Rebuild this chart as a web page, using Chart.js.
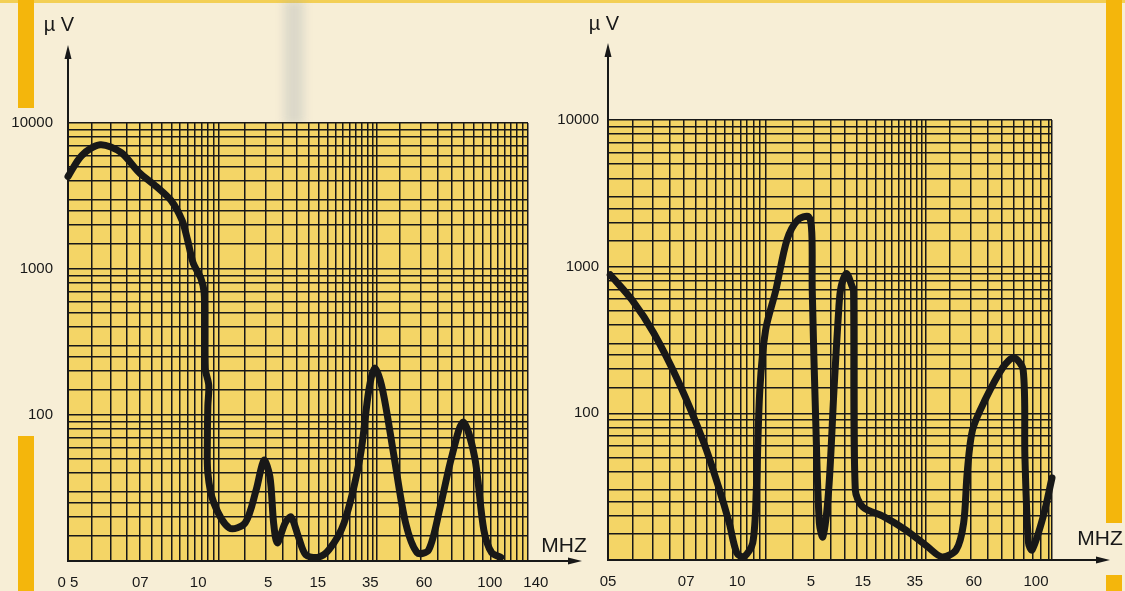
<!DOCTYPE html>
<html>
<head>
<meta charset="utf-8">
<script src="https://cdn.jsdelivr.net/npm/chart.js@4"></script>
<style>
  html, body { margin: 0; padding: 0; }
  body {
    width: 1125px; height: 591px; overflow: hidden; position: relative;
    background: #f7eed6;
    font-family: "Liberation Sans", Arial, sans-serif;
  }
  canvas { position: absolute; top: 0; }
  #left { left: 0; }
  #right { left: 540px; }
  .bar { position: absolute; background: #f4b60c; }
  .streak { position: absolute; left: 284px; top: 0; width: 20px; height: 125px;
    background: rgba(150, 160, 170, 0.28); filter: blur(5px); }
</style>
</head>
<body>
<div class="bar" style="left:0;top:0;width:1125px;height:3px;background:#f3cf55"></div>
<div class="bar" style="left:18px;top:0;width:16px;height:108px"></div>
<div class="bar" style="left:18px;top:436px;width:16px;height:155px"></div>
<div class="bar" style="left:1106px;top:0;width:16px;height:523px"></div>
<div class="bar" style="left:1106px;top:575px;width:16px;height:16px"></div>
<div class="streak"></div>
<canvas id="left" width="600" height="591"></canvas>
<canvas id="right" width="585" height="591"></canvas>
<script>
// x runs across the chart paper (0 = left edge, 100 = right edge), y is in µV

// tick labels under each chart and where they sit on the paper
const leftTickLabels = ['0 5', '07', '10', '5', '15', '35', '60', '100', '140'];
const leftTickAt = [0, 15.7, 28.3, 43.5, 54.3, 65.7, 77.4, 91.7, 101.7];
const rightTickLabels = ['05', '07', '10', '5', '15', '35', '60', '100'];
const rightTickAt = [0, 17.6, 29.1, 45.7, 57.4, 69.1, 82.4, 96.4];

const yTickLabels = [100, 1000, 10000];

// left curve
const leftPos = [0, 3, 7, 11.5, 15.4, 19.3, 22.4, 24.8, 26.0, 27.2, 28.9, 29.6, 29.7, 29.8,
  30.6, 30.4, 30.3, 30.4, 31.7, 35.1, 38.5, 40.9, 42.6, 43.9, 44.7, 45.5, 47.2, 48.5, 50.1,
  51.7, 54.3, 56.7, 60, 63.5, 65.4, 66.7, 68.4, 70.9, 73.4, 75.9, 78.4, 80.9, 83.4, 85.9,
  88.4, 90.4, 92.1, 94.1];
const leftLevel = [4300, 6000, 7100, 6300, 4600, 3650, 2950, 2150, 1580, 1100, 860, 690, 400, 210,
  160, 115, 70, 40, 25, 16.8, 18.2, 30.6, 49, 37.6, 18.2, 13.3, 18.2, 20, 14.6,
  11, 10.6, 11.9, 18.2, 51.5, 148, 210, 148, 51.5, 18.2, 11.4, 11.9, 23.4, 51.5, 89.6,
  51.5, 16.3, 11.4, 10.6];

// right curve
const rightPos = [0.5, 5.4, 10.3, 16.0, 21.6, 24.9, 27.3, 29.0, 30.6, 32.6, 33.4, 34.2, 35.5,
  37.8, 40.3, 42.7, 45.2, 45.9, 46.0, 46.8, 47.6, 48.4, 49.7, 50.9, 52.0, 52.5, 53.7, 55.0,
  55.3, 55.7, 57.4, 62.2, 67.1, 72.0, 75.2, 78.4, 80.1, 80.9, 82.1, 84.9, 89.0, 91.4, 93.5,
  93.9, 94.7, 95.5, 98.0, 100];
const rightLevel = [880, 593, 353, 161, 62.8, 31.5, 17.9, 11.2, 10.5, 13.1, 30, 145, 370,
  690, 1520, 2080, 2190, 1700, 690, 86, 17.9, 14.4, 30, 145, 530, 730, 900, 730,
  690, 30, 23, 19.7, 16, 12.3, 10.5, 11.7, 17.9, 39.3, 77, 123, 207, 239, 198,
  50.5, 13.1, 11.7, 19.7, 36.3];

const INK = '#181818';
const PAPER = '#f4d566';
const tickFont = { family: '"Liberation Sans", Arial, sans-serif', size: 15 };

// graph paper: horizontal rules at 1, 1.5, 2, 2.5, 3 ... 9 per decade
function paperRows() {
  const steps = [1, 1.5, 2, 2.5, 3, 4, 5, 6, 7, 8, 9];
  const rows = [];
  [10, 100, 1000].forEach(dec => steps.forEach(m => rows.push(m * dec)));
  rows.push(10000);
  return rows;
}

// graph paper: vertical rules repeat in cycles that get denser to the right
function paperColumns(cycleStarts) {
  const cols = [];
  cycleStarts.forEach((s, i) => {
    const next = cycleStarts[i + 1];
    const w = next !== undefined ? next - s : s - cycleStarts[i - 1];
    for (let k = 0; k < 15; k++) {
      const p = s + w * 0.852 * Math.log10(1 + 0.3 * k) / Math.log10(5.2);
      if (p < 99.5) cols.push(p);
    }
  });
  cols.push(100);
  return cols;
}

const paperPlugin = {
  id: 'paper',
  beforeDraw(chart, args, opts) {
    const { ctx, chartArea: a } = chart;
    ctx.save();
    ctx.fillStyle = PAPER;
    ctx.fillRect(a.left, a.top, a.right - a.left, a.bottom - a.top);
    ctx.restore();
  },
  afterDraw(chart, args, opts) {
    const { ctx, chartArea: a } = chart;
    ctx.save();
    ctx.strokeStyle = INK;
    ctx.fillStyle = INK;
    ctx.lineWidth = 2;

    // vertical axis arrow
    const upTip = a.top - opts.arrowUp;
    ctx.beginPath();
    ctx.moveTo(a.left, a.top);
    ctx.lineTo(a.left, upTip + 10);
    ctx.stroke();
    ctx.beginPath();
    ctx.moveTo(a.left, upTip);
    ctx.lineTo(a.left - 3.5, upTip + 14);
    ctx.lineTo(a.left + 3.5, upTip + 14);
    ctx.closePath();
    ctx.fill();

    // horizontal axis arrow
    const rightTip = a.right + opts.arrowRight;
    ctx.beginPath();
    ctx.moveTo(a.right, a.bottom);
    ctx.lineTo(rightTip - 10, a.bottom);
    ctx.stroke();
    ctx.beginPath();
    ctx.moveTo(rightTip, a.bottom);
    ctx.lineTo(rightTip - 14, a.bottom - 3.5);
    ctx.lineTo(rightTip - 14, a.bottom + 3.5);
    ctx.closePath();
    ctx.fill();

    ctx.textAlign = 'center';
    ctx.textBaseline = 'middle';
    ctx.font = '20px "Liberation Sans", Arial, sans-serif';
    ctx.fillText('\u00b5 V', a.left + opts.unitDx, a.top + opts.unitDy);
    ctx.font = '21px "Liberation Sans", Arial, sans-serif';
    ctx.fillText('MHZ', a.right + opts.mhzDx, a.bottom + opts.mhzDy);
    ctx.restore();
  }
};

function makeChart(id, pos, level, tickLabels, tickAt, cycles, box, deco) {
  const points = pos.map((x, i) => ({ x: x, y: level[i] }));
  const cols = paperColumns(cycles);
  const rows = paperRows();

  return new Chart(document.getElementById(id), {
    type: 'line',
    data: {
      datasets: [{
        data: points,
        borderColor: INK,
        borderWidth: 7,
        tension: 0.3,
        pointRadius: 0,
        fill: false,
        clip: false,
        borderCapStyle: 'round',
        borderJoinStyle: 'round'
      }]
    },
    options: {
      responsive: false,
      animation: false,
      devicePixelRatio: 1,
      layout: { padding: { left: 0, right: box.right, top: box.top, bottom: 0 } },
      plugins: {
        legend: { display: false },
        tooltip: { enabled: false },
        paper: deco
      },
      scales: {
        x: {
          type: 'linear',
          min: 0,
          max: 100,
          afterBuildTicks: scale => {
            const t = cols.map(v => ({ value: v }));
            tickAt.forEach((v, i) => t.push({ value: v, lbl: tickLabels[i] }));
            t.sort((p, q) => p.value - q.value);
            scale.ticks = t;
          },
          afterFit: scale => { scale.height = box.axisH; },
          grid: {
            color: ctx => (ctx.tick && ctx.tick.lbl !== undefined) ? 'rgba(0,0,0,0)' : INK,
            lineWidth: 1.5,
            drawTicks: false
          },
          border: { display: true, color: INK, width: 2 },
          ticks: {
            autoSkip: false,
            maxRotation: 0,
            padding: 13,
            color: INK,
            font: tickFont,
            callback: (v, i, ticks) => ticks[i].lbl || ''
          }
        },
        y: {
          type: 'logarithmic',
          min: 10,
          max: 10000,
          afterBuildTicks: scale => { scale.ticks = rows.map(v => ({ value: v })); },
          afterFit: scale => { scale.width = box.left; },
          grid: { color: INK, lineWidth: 1.5, drawTicks: false },
          border: { display: true, color: INK, width: 2 },
          ticks: {
            autoSkip: false,
            padding: box.yPad,
            color: INK,
            font: tickFont,
            callback: v => yTickLabels.includes(v) ? String(v) : ''
          }
        }
      }
    },
    plugins: [paperPlugin]
  });
}

makeChart('left', leftPos, leftLevel, leftTickLabels, leftTickAt, [0, 38.5, 72.2],
  { left: 68, right: 72, top: 123, axisH: 30, yPad: 15 },
  { arrowUp: 78, arrowRight: 54, unitDx: -9, unitDy: -98, mhzDx: 36, mhzDy: -15 });

makeChart('right', rightPos, rightLevel, rightTickLabels, rightTickAt, [0, 41.6, 76.9],
  { left: 68, right: 73, top: 120, axisH: 31, yPad: 9 },
  { arrowUp: 77, arrowRight: 58, unitDx: -4, unitDy: -96, mhzDx: 48, mhzDy: -21 });
</script>
</body>
</html>
